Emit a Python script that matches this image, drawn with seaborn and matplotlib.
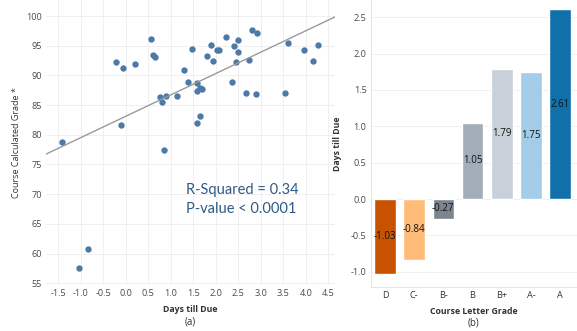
import matplotlib
matplotlib.use("Agg")
import matplotlib.pyplot as plt
import seaborn as sns
import pandas as pd

# --- dados ---
days_till_due = [-1.42, -1.04, -0.84, -0.21, -0.06, -0.11, 0.21, 0.56, 0.61, 0.65,
                 0.76, 0.81, 0.89, 0.86, 1.13, 1.30, 1.38, 1.47, 1.58, 1.59,
                 1.64, 1.70, 1.64, 1.59, 1.81, 1.90, 1.95, 2.02, 2.07, 2.22,
                 2.36, 2.40, 2.44, 2.50, 2.50, 2.67, 2.75, 2.80, 2.91, 2.89,
                 3.55, 3.61, 3.97, 4.16, 4.27]
course_grade = [78.8, 57.6, 60.8, 92.3, 91.2, 81.6, 91.9, 96.2, 93.4, 93.1,
                86.3, 85.6, 86.6, 77.5, 86.6, 90.9, 88.9, 94.4, 88.7, 87.3,
                87.9, 87.7, 83.2, 81.9, 93.3, 95.1, 92.4, 94.3, 94.2, 96.5,
                88.9, 94.9, 92.3, 96.0, 94.0, 87.0, 92.6, 97.6, 97.2, 86.9,
                87.1, 95.4, 94.3, 92.4, 95.2]

letter_grades = ["D", "C-", "B-", "B", "B+", "A-", "A"]
mean_days = [-1.03, -0.84, -0.27, 1.05, 1.79, 1.75, 2.61]
bar_colors = ["#c85200", "#ffbc79", "#7b848f", "#a3acb9", "#c8d0d9", "#a3cce9", "#1170aa"]

x_ticks = [-1.5, -1.0, -0.5, 0.0, 0.5, 1.0, 1.5, 2.0, 2.5, 3.0, 3.5, 4.0, 4.5]
y_ticks = [55, 60, 65, 70, 75, 80, 85, 90, 95, 100]
bar_ticks = [-1.0, -0.5, 0.0, 0.5, 1.0, 1.5, 2.0, 2.5]

sns.set_style("white")
plt.rcParams["font.family"] = ["Open Sans", "DejaVu Sans"]

tick_col = "#4a4a4a"
grid_col = "#eeeeee"

fig = plt.figure(figsize=(5.77, 3.31), dpi=100)
W, H = 577, 331

def px_axes(l, t, r, b):
    return fig.add_axes([l / W, 1 - b / H, (r - l) / W, (b - t) / H])

# === (a) scatter + regressão ===
ax1 = px_axes(46, 0, 335, 285)
df = pd.DataFrame({"Days till Due": days_till_due, "Grade": course_grade})
ax1.set_xlim(-1.77, 4.65)
ax1.set_ylim(54.7, 102.7)
sns.regplot(data=df, x="Days till Due", y="Grade", ci=None, truncate=False, ax=ax1,
            scatter_kws={"s": 21, "color": "#4e79a7", "alpha": 1, "linewidths": 0},
            line_kws={"color": "#9a9a9a", "lw": 1.0})
ax1.set_xlim(-1.77, 4.65)
ax1.set_ylim(54.7, 102.7)
ax1.set_xticks(x_ticks)
ax1.set_xticklabels([f"{v:.1f}" for v in x_ticks])
ax1.set_yticks(y_ticks)
ax1.grid(True, color=grid_col, lw=0.6)
ax1.set_axisbelow(True)
for s in ax1.spines.values():
    s.set_visible(False)
ax1.tick_params(length=0, labelsize=6.6, colors=tick_col, pad=3)
ax1.set_xlabel("Days till Due", fontsize=6.3, fontweight="bold", color="#333333", labelpad=5)
ax1.set_ylabel("Course Calculated Grade *", fontsize=6.5, color="#333333", labelpad=4)
ax1.text(0.5, -0.13, "(a)", transform=ax1.transAxes, ha="center", va="center",
         fontsize=7, color="#333333")
ax1.text(186 / W, 1 - 190 / H, "R-Squared = 0.34", transform=fig.transFigure,
         fontsize=10.5, color="#2e5a88", family="Lato", va="center")
ax1.text(186 / W, 1 - 209 / H, "P-value < 0.0001", transform=fig.transFigure,
         fontsize=10.5, color="#2e5a88", family="Lato", va="center")

# === (b) barras ===
ax2 = px_axes(370.7, 0, 577, 287)
dfb = pd.DataFrame({"grade": letter_grades, "days": mean_days})
sns.barplot(data=dfb, x="grade", y="days", hue="grade", palette=bar_colors,
            order=letter_grades, legend=False, width=0.74, saturation=1, ax=ax2)
for cont in ax2.containers:
    ax2.bar_label(cont, fmt="%.2f", label_type="center", fontsize=7, color="#111111")
ax2.set_xlim(-0.49, 6.58)
ax2.set_ylim(-1.21, 2.737)
ax2.set_yticks(bar_ticks)
ax2.set_yticklabels([f"{v:.1f}" for v in bar_ticks])
ax2.yaxis.grid(True, color=grid_col, lw=0.6)
ax2.set_axisbelow(True)
for k in ["top", "right"]:
    ax2.spines[k].set_visible(False)
for k in ["left", "bottom"]:
    ax2.spines[k].set_color("#e0e0e0")
    ax2.spines[k].set_linewidth(0.6)
ax2.tick_params(length=0, labelsize=6.6, colors=tick_col, pad=3)
ax2.tick_params(axis="x", colors="#333333")
ax2.set_xlabel("Course Letter Grade", fontsize=6.3, fontweight="bold", color="#333333", labelpad=5)
ax2.set_ylabel("Days till Due", fontsize=6.3, fontweight="bold", color="#333333", labelpad=6)
ax2.text(0.5, -0.125, "(b)", transform=ax2.transAxes, ha="center", va="center",
         fontsize=7, color="#333333")

fig.savefig("out.png", dpi=100)
